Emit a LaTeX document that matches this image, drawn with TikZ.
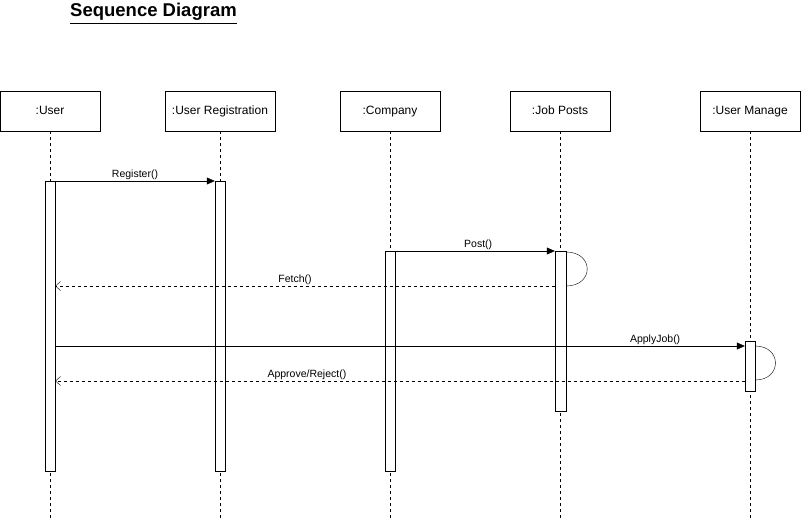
\documentclass[tikz,border=0pt]{standalone}
\usepackage{fontspec}
\setmainfont{Liberation Sans}
\usetikzlibrary{arrows.meta}

\begin{document}
\begin{tikzpicture}[
    x=1pt, y=-1pt,
    head/.style={draw, minimum width=100pt, minimum height=40pt, inner sep=0pt, text height=8.5pt, text depth=2.5pt, font=\fontsize{12}{14}\selectfont},
    bar/.style={draw, fill=white, minimum width=10pt, inner sep=0pt, anchor=north},
    lifeline/.style={dash pattern=on 3pt off 3pt},
    call/.style={-{Triangle[length=8pt, width=7pt]}},
    reply/.style={dashed, -{Straight Barb[length=5pt, width=9pt]}},
    msg/.style={font=\fontsize{10.5}{12}\selectfont, inner sep=1pt}
]
\useasboundingbox (0,0) rectangle (802,522);

\node[font=\fontsize{18.5}{22}\selectfont\bfseries, anchor=west, inner sep=0pt] (title) at (70,12) {Sequence Diagram};
\draw[line width=1.4pt] ([yshift=-2.5pt]title.south west) -- ([yshift=-2.5pt]title.south east);

% lifeline heads
\node[head] (user) at (50,111) {:User};
\node[head, minimum width=110pt] (reg) at (220,111) {:User Registration};
\node[head] (comp) at (390,111) {:Company};
\node[head] (jobs) at (560,111) {:Job Posts};
\node[head] (mgr) at (750,111) {:User Manage};

% lifelines
\foreach \n/\x in {user/50, reg/220, comp/390, jobs/560, mgr/750}
    \draw[lifeline] (\n.south) -- (\x,520);

% activations
\node[bar, minimum height=290pt] (userbar) at (50,181) {};
\node[bar, minimum height=290pt] (regbar) at (220,181) {};
\node[bar, minimum height=220pt] (compbar) at (390,251) {};
\node[bar, minimum height=160pt, minimum width=11pt] (jobsbar) at (560.5,251) {};
\node[bar, minimum height=50pt] (mgrbar) at (750,341) {};

% messages
\draw[call] (userbar.north east) -- node[msg, above, pos=0.5] {Register()} (regbar.north west);
\draw[call] (compbar.north east) -- node[msg, above, pos=0.52] {Post()} (jobsbar.north west);
\draw ([yshift=-1pt]jobsbar.north east) .. controls +(28,0) and +(28,0) .. ([yshift=-35pt]jobsbar.north east);
\coordinate (fetch) at ([yshift=-35pt]jobsbar.north west);
\draw[reply] (fetch) -- node[msg, above, pos=0.52] {Fetch()} (userbar.east |- fetch);
\coordinate (apply) at ([yshift=-5pt]mgrbar.north west);
\draw[call] (userbar.east |- apply) -- node[msg, above, pos=0.87] {ApplyJob()} (apply);
\draw ([yshift=-5pt]mgrbar.north east) .. controls +(27,0) and +(27,0) .. ([yshift=-39pt]mgrbar.north east);
\coordinate (answer) at ([yshift=-40pt]mgrbar.north west);
\draw[reply] (answer) -- node[msg, above, pos=0.635] {Approve/Reject()} (userbar.east |- answer);
\end{tikzpicture}
\end{document}
